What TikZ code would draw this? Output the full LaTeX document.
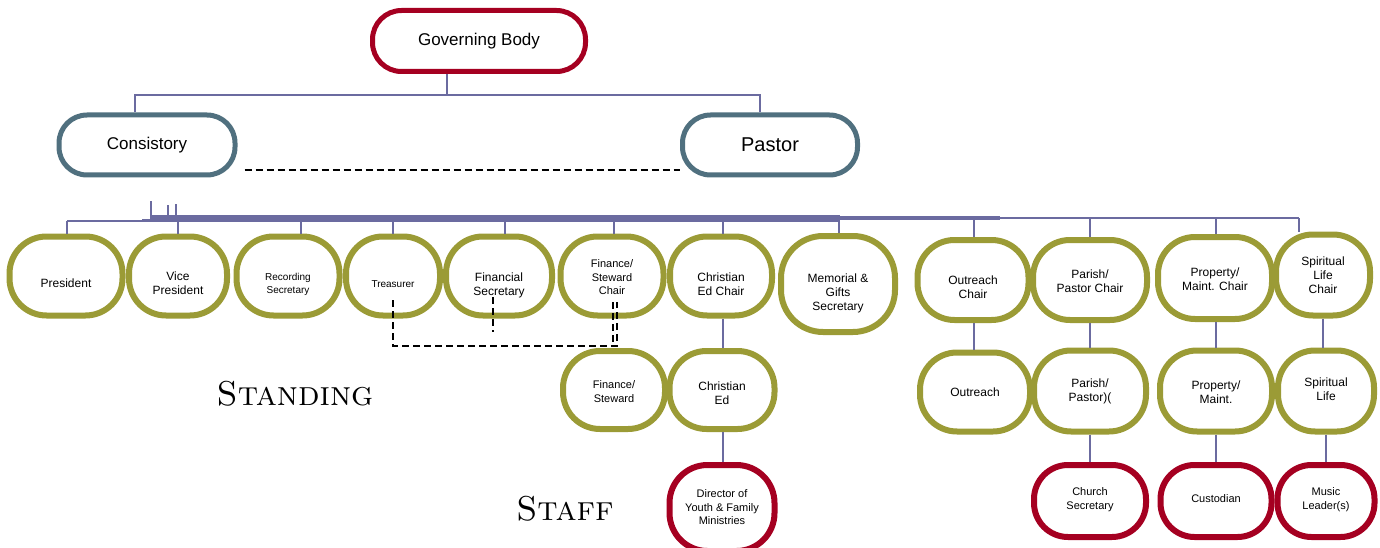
\documentclass[tikz,border=0pt]{standalone}
\usepackage{fontspec}
\newfontfamily\arial{Liberation Sans}
\definecolor{cred}{HTML}{A50021}
\definecolor{colive}{HTML}{9B9B36}
\definecolor{cslate}{HTML}{50707F}
\definecolor{cline}{HTML}{6B6BA0}
% text lowered by #1 pt relative to the box centre
\newcommand{\lo}[2]{\raisebox{\dimexpr -#1pt-4.5pt\relax}[0pt][0pt]{\begin{tabular}{@{}c@{}}#2\end{tabular}}}
\tikzset{
  box/.style={draw, fill=white, align=center, inner sep=0pt, text=black},
  redbox/.style={box, draw=cred, line width=5pt, rounded corners=29pt},
  bluebox/.style={box, draw=cslate, line width=5pt, rounded corners=28pt},
  olbox/.style={box, draw=colive, line width=6pt, rounded corners=37pt},
  staffbox/.style={box, draw=cred, line width=6pt, rounded corners=34pt},
  conn/.style={draw=cline, line width=1.6pt},
  dsh/.style={draw=black, line width=1.8pt, dash pattern=on 7pt off 4pt},
  sz/.style 2 args={minimum width=#1, minimum height=#2},
  t12/.style={font=\arial\fontsize{12}{14}\selectfont},
  t11/.style={font=\arial\fontsize{11}{13.5}\selectfont},
  t10/.style={font=\arial\fontsize{10}{13}\selectfont},
  title/.style={font=\rmfamily\scshape\fontsize{34.5}{34.5}\selectfont}
}
\begin{document}
\begin{tikzpicture}[x=1pt,y=-1pt]
\useasboundingbox (0,0) rectangle (1380,548);
% top level
\node[redbox, sz={213}{61}, font=\arial\fontsize{17}{19}\selectfont] (gb) at (479,41) {Governing Body};
\node[bluebox, sz={176}{60}, font=\arial\fontsize{17}{19}\selectfont] (cons) at (147,145) {Consistory};
\node[bluebox, sz={175}{60}, font=\arial\fontsize{20}{22}\selectfont] (pastor) at (770,145) {Pastor};
\coordinate (gbc) at (447,95);
\draw[conn] ([xshift=-32pt]gb.south) -- (gbc);
\draw[conn] ([xshift=-12pt]cons.north) |- (gbc);
\draw[conn] ([xshift=-10pt]pastor.north) |- (gbc);
\draw[dsh] ([xshift=7pt,yshift=-25pt]cons.east) -- ([yshift=-25pt]pastor.west);

% bus
\coordinate (b0) at (67,221);
\coordinate (b1) at (150,221);
\coordinate (b2) at (150,218);
\coordinate (b3) at (840,218);
\coordinate (b4) at (1000,218);
\coordinate (b5) at (1299,218);
\draw[conn] (b0) -- (b1);
\draw[conn, line width=7pt] (b2) -- (b3);
\draw[conn, line width=3.5pt] (b3) -- (b4);
\draw[conn, line width=2.2pt] (b4) -- (b5);
\draw[conn, line width=2pt] (142,220) -- (151,220) -- (151,201);
\draw[conn, line width=2.5pt] (168,218) -- (168,205);
\draw[conn, line width=2pt] (176,218) -- (176,204);

% standing row 1
\node[olbox, sz={113}{79}, t12] (pres) at (66,276) {\lo{7}{President}};
\node[olbox, sz={98}{79}, t12] (vp) at (178,276) {\lo{7}{Vice\\President}};
\node[olbox, sz={103}{79}, t10] (rs) at (288,276) {\lo{6}{Recording\\Secretary}};
\node[olbox, sz={94}{79}, t10] (tre) at (393,276) {\lo{7}{Treasurer}};
\node[olbox, sz={106}{79}, t12] (fs) at (499,276) {\lo{8}{Financial\\Secretary}};
\node[olbox, sz={103}{79}, t11] (fsc) at (612,276) {\lo{1}{Finance/\\Steward\\Chair}};
\node[olbox, sz={102}{79}, t12] (cec) at (721,276) {\lo{8}{Christian\\Ed Chair}};
\node[olbox, sz={114}{96}, rounded corners=42pt, t12] (mgs) at (838,284) {\lo{8}{Memorial \&\\Gifts\\Secretary}};
\node[olbox, sz={111}{80}, t12] (outc) at (973,280) {\lo{7}{Outreach\\Chair}};
\node[olbox, sz={114}{80}, t12] (parc) at (1090,280) {\lo{1}{Parish/\\Pastor Chair}};
\node[olbox, sz={114}{82}, t12] (propc) at (1215,278) {\lo{1}{Property/\\Maint. Chair}};
\node[olbox, sz={94}{81}, t12] (spc) at (1323,275) {\lo{0}{Spiritual\\Life\\Chair}};

\foreach \n/\dx in {vp/0, rs/13, tre/0, fs/6, fsc/2, cec/2, mgs/1, outc/1, parc/0, propc/1, spc/-24}{
  \draw[conn] ([xshift=\dx pt]\n.north) -- ([xshift=\dx pt]\n.north |- b3);
}
\draw[conn] ([xshift=1pt]pres.north) -- ([xshift=1pt]pres.north |- b0);

% row 2
\node[olbox, sz={102}{78}, t11] (fsr) at (614,390) {\lo{1}{Finance/\\Steward}};
\node[olbox, sz={105}{78}, t12] (ce) at (722,390) {\lo{3}{Christian\\Ed}};
\node[olbox, sz={110}{79}, t12] (out) at (975,392) {\lo{0}{Outreach}};
\node[olbox, sz={112}{81}, t12] (par) at (1090,391) {\lo{-1}{Parish/\\Pastor)(}};
\node[olbox, sz={112}{81}, t12] (prop) at (1216,391) {\lo{1}{Property/\\Maint.}};
\node[olbox, sz={96}{81}, t12] (sp) at (1326,391) {\lo{-2}{Spiritual\\Life}};

% row 3 staff
\node[staffbox, sz={105}{86}, rounded corners=38pt, t11] (dir) at (722,508) {\lo{-1}{Director of\\Youth \& Family\\Ministries}};
\node[staffbox, sz={112}{72}, t11] (cs) at (1090,501) {\lo{-3}{Church\\Secretary}};
\node[staffbox, sz={111}{72}, t11] (cus) at (1216,501) {\lo{-3}{Custodian}};
\node[staffbox, sz={97}{72}, t11] (ml) at (1326,501) {\lo{-3}{Music\\Leader(s)}};

\draw[conn] ([xshift=2pt]cec.south) -- ([xshift=2pt]cec.south |- ce.north);
\draw[conn] ([xshift=1pt]ce.south) -- ([xshift=1pt]ce.south |- dir.north);
\draw[conn] ([xshift=1pt]outc.south) -- ([xshift=1pt]outc.south |- out.north);
\draw[conn] (parc.south) -- (par.north);
\draw[conn] ([xshift=1pt]propc.south) -- ([xshift=1pt]propc.south |- prop.north);
\draw[conn] (spc.south) -- (spc.south |- sp.north);
\draw[conn] (par.south) -- (cs.north);
\draw[conn] (prop.south) -- (cus.north);
\draw[conn] (sp.south) -- (ml.north);

% dashed financial links
\coordinate (d1) at (393,346);
\coordinate (d2) at (617,346);
\draw[dsh] ([yshift=-24pt]tre.center) -- (d1) -- (d2) -- ([xshift=5pt,yshift=-26pt]fsc.center);
\draw[dsh] ([xshift=1pt,yshift=-26pt]fsc.center) -- ([xshift=1pt,yshift=-70pt]fsc.center);
\draw[dsh] ([xshift=-6pt,yshift=-21pt]fs.center) -- ([xshift=-6pt,yshift=-56pt]fs.center);

% labels
\node[title] (standing) at (295,394) {Standing};
\node[title] (staff) at (565,509) {Staff};
\end{tikzpicture}
\end{document}
